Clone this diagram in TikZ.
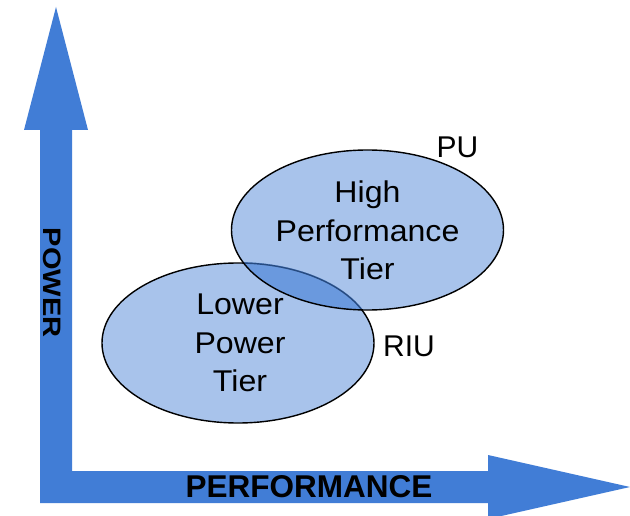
\documentclass[tikz,border=0pt]{standalone}
\usepackage{fontspec}
\setmainfont{Liberation Sans}
\newfontfamily\widesans[FakeStretch=1.07]{Liberation Sans}
\definecolor{axisblue}{RGB}{65,125,214}
\definecolor{tierfill}{RGB}{168,195,235}
\begin{document}
\begin{tikzpicture}[x=1pt,y=-1pt,
  axis/.style={fill=axisblue},
  tier/.style={fill=tierfill},
  rim/.style={draw=black,line width=1.4pt},
  tierlabel/.style={font=\widesans\fontsize{30}{38.5}\selectfont,align=center,inner sep=0pt},
  sidelabel/.style={font=\fontsize{30}{36}\selectfont,inner sep=0pt},
  axislabel/.style={font=\fontsize{31.5}{32}\selectfont\bfseries,inner sep=0pt}]
\useasboundingbox (0,0) rectangle (630,516);
\fill[white] (0,0) rectangle (630,516);
% the two axes as one L-shaped double arrow
\fill[axis] (40,503) -- (40,130) -- (24,130) -- (56,7) -- (88,130) -- (72,130)
  -- (72,471) -- (488,471) -- (488,455) -- (630,487) -- (488,519) -- (488,503) -- cycle;
% tiers
\fill[tier] (367.5,230) ellipse [x radius=136, y radius=80];
\fill[tier] (238,343) ellipse [x radius=136, y radius=80];
\draw[rim] (238,343) ellipse [x radius=136, y radius=80];
\begin{scope}
  \clip (367.5,230) ellipse [x radius=136, y radius=80];
  \fill[axisblue,opacity=0.6] (238,343) ellipse [x radius=137, y radius=81];
\end{scope}
\draw[rim] (367.5,230) ellipse [x radius=136, y radius=80];
% labels
\node[tierlabel] (high) at (367.5,230.5) {High\\Performance\\Tier};
\node[tierlabel] (low) at (240,343) {Lower\\Power\\Tier};
\node[sidelabel] (pu) at (457.5,147.5) {PU};
\node[sidelabel] (riu) at (409,346) {RIU};
\node[axislabel] (perf) at (309,486.5) {PERFORMANCE};
\node[axislabel,font=\fontsize{29}{30}\selectfont\bfseries,rotate=-90] (power) at (52.5,282.5) {\scalebox{1}[0.87]{POWER}};
\end{tikzpicture}
\end{document}
